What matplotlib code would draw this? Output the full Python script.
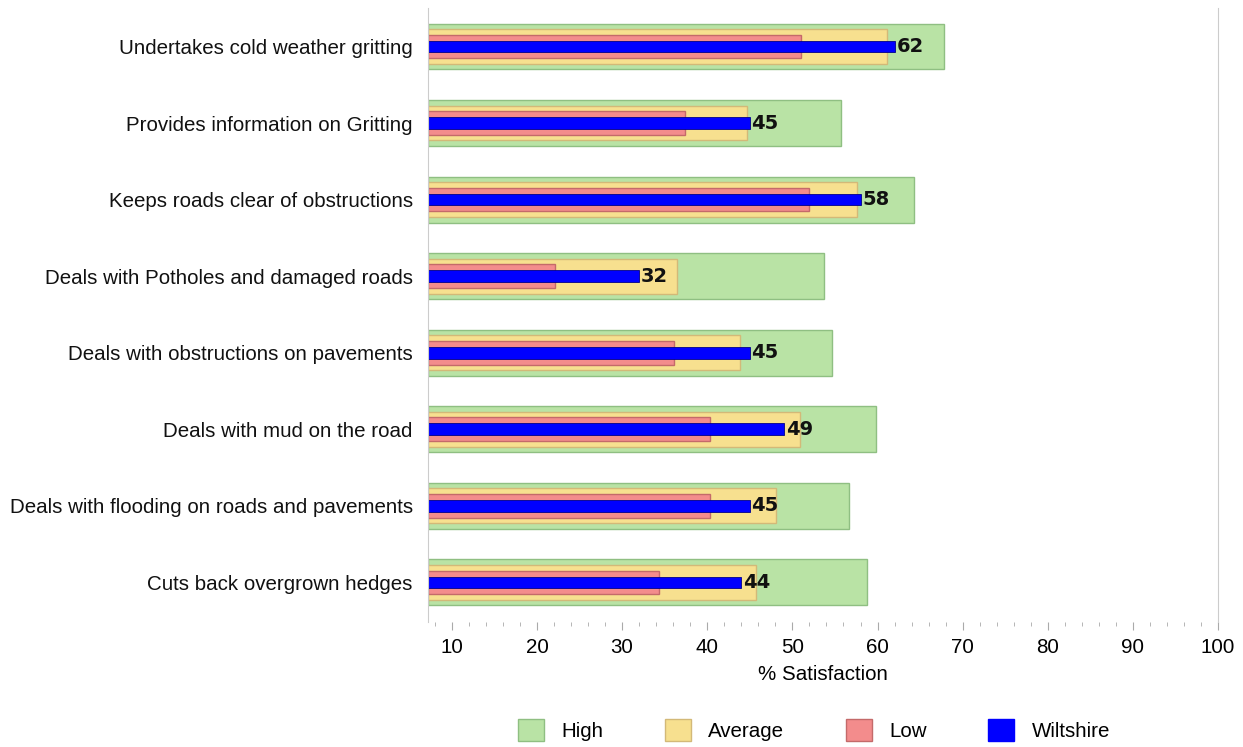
import numpy as np
import matplotlib.pyplot as plt
from matplotlib.patches import Patch

plt.rcParams['font.family'] = ['Liberation Sans', 'DejaVu Sans']

categories = [
    "Undertakes cold weather gritting",
    "Provides information on Gritting",
    "Keeps roads clear of obstructions",
    "Deals with Potholes and damaged roads",
    "Deals with obstructions on pavements",
    "Deals with mud on the road",
    "Deals with flooding on roads and pavements",
    "Cuts back overgrown hedges",
]
high = [67.8, 55.7, 64.3, 53.7, 54.7, 59.8, 56.7, 58.8]
average = [61.1, 44.7, 57.6, 36.4, 43.9, 50.9, 48.1, 45.7]
low = [51.0, 37.4, 52.0, 22.1, 36.1, 40.3, 40.3, 34.3]
wiltshire = [62, 45, 58, 32, 45, 49, 45, 44]

x_min = 7.2
y = np.arange(len(categories))

fig = plt.figure(figsize=(12.43, 7.47), dpi=100)
ax = fig.add_axes([0.3443, 0.167, 0.6357, 0.822])

def draw(vals, h, fc, ec, lw):
    return ax.barh(y, np.array(vals) - x_min, left=x_min, height=h,
                   color=fc, edgecolor=ec, linewidth=lw)

draw(high, 0.60, '#b9e3a5', '#8fbf82', 1.0)
draw(average, 0.455, '#f7e08f', '#d3b978', 1.0)
draw(low, 0.31, '#f38c8c', '#c46a6a', 1.0)
draw(wiltshire, 0.153, '#0000ff', '#00008b', 0.6)

for yi, v in zip(y, wiltshire):
    ax.text(v + 0.2, yi, str(v), va='center', ha='left',
            fontsize=14, fontweight='bold', color='#111111', family='DejaVu Sans')

ax.set_xlim(x_min, 100)
ax.set_ylim(len(categories) - 0.48, -0.5)
ax.set_yticks(y)
ax.set_yticklabels(categories, fontsize=14.8, color='#111111')
ax.tick_params(axis='y', length=0, pad=11)

ax.set_xticks(np.arange(10, 101, 10))
ax.set_xticks(np.arange(8, 101, 2), minor=True)
ax.tick_params(axis='x', which='major', length=6, color='#aaaaaa', labelsize=14.8, pad=5)
ax.tick_params(axis='x', which='minor', length=3, color='#aaaaaa')
ax.set_xlabel('% Satisfaction', fontsize=14.8, labelpad=6)

ax.spines['top'].set_visible(False)
ax.spines['bottom'].set_visible(False)
ax.spines['left'].set_color('#cccccc')
ax.spines['right'].set_color('#cccccc')

handles = [
    Patch(facecolor='#b9e3a5', edgecolor='#8fbf82', label='High'),
    Patch(facecolor='#f7e08f', edgecolor='#d3b978', label='Average'),
    Patch(facecolor='#f38c8c', edgecolor='#c46a6a', label='Low'),
    Patch(facecolor='#0000ff', edgecolor='#0000ff', label='Wiltshire'),
]
fig.legend(handles=handles, loc='lower center', bbox_to_anchor=(0.655, -0.017),
           ncol=4, frameon=False, fontsize=14.8, handlelength=1.25, handleheight=1.25,
           handletextpad=0.85, columnspacing=3.0)

fig.savefig('out.png', dpi=100)
